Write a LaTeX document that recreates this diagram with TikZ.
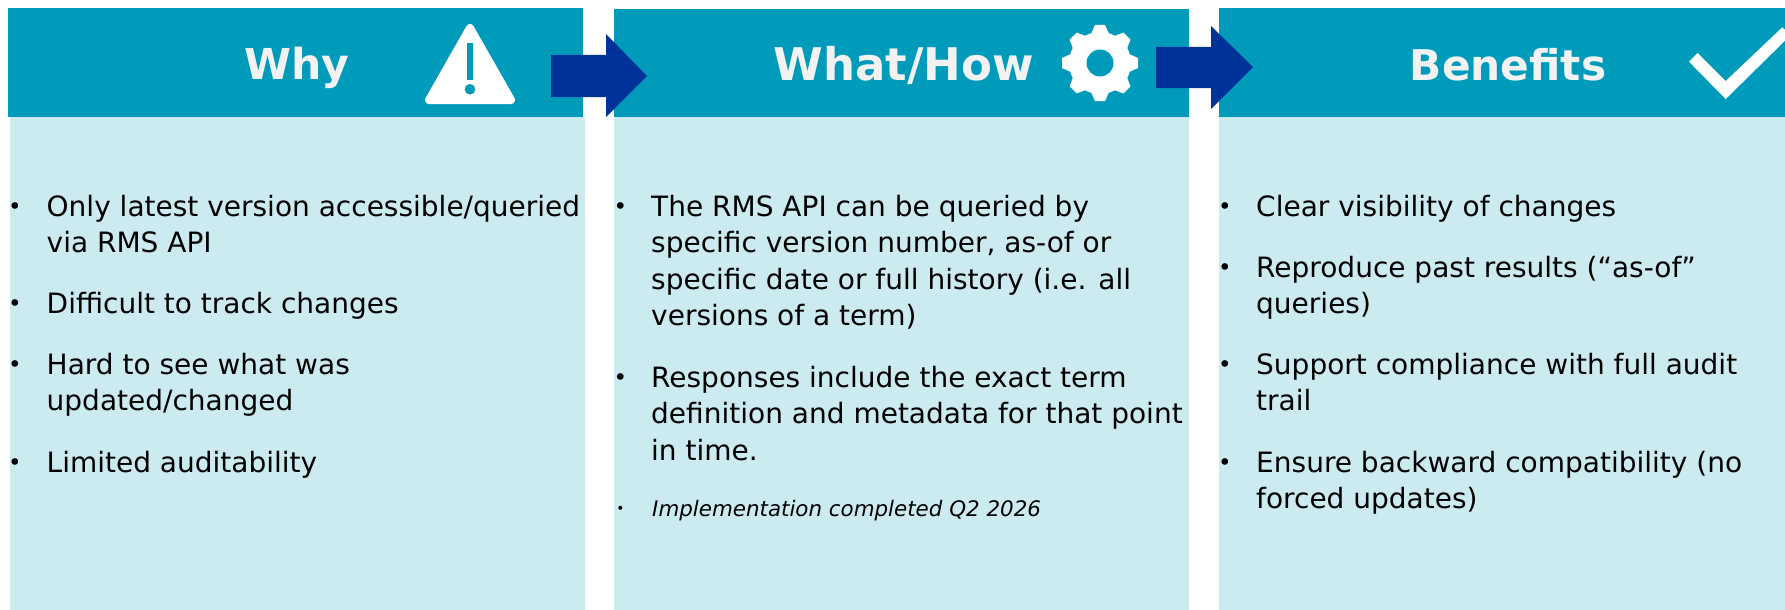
\documentclass[tikz,border=0pt]{standalone}
\usepackage{fontspec}
\setmainfont{DejaVu Sans}
\definecolor{hdrc}{HTML}{009BBB}
\definecolor{bodyc}{HTML}{CCEBF1}
\definecolor{arrc}{HTML}{003399}
\definecolor{titlec}{HTML}{F2F2F2}
\newcommand{\bodyfont}{\fontsize{28}{36.5}\selectfont}
\newcommand{\smallfont}{\fontsize{21.4}{26}\selectfont}
\tikzset{
  x=1pt,y=-1pt,
  hdrbox/.style={fill=hdrc,draw=none,inner sep=0,outer sep=0,anchor=north west},
  bodybox/.style={fill=bodyc,draw=none,inner sep=0,outer sep=0,anchor=north west},
  titletext/.style={text=titlec,font=\fontsize{44}{44}\selectfont\bfseries,inner sep=0,anchor=base},
  itemtext/.style={inner sep=0,anchor=north west,align=left,text=black,font=\bodyfont},
  smalltext/.style={inner sep=0,anchor=north west,align=left,text=black,font=\smallfont\itshape},
  bullettext/.style={inner sep=0,anchor=base,text=black,font=\fontsize{23}{23}\selectfont},
  flowarrow/.style={fill=arrc,draw=none},
}
% #1 name, #2 bullet x, #3 text x, #4 first baseline y, #5 text
\newcommand{\listitem}[5]{%
  \node[bullettext] (#1b) at (#2,#4-1.5) {•};
  \node[itemtext] (#1) at (#3,#4-24) {\rule{0pt}{24pt}#5};
}
\begin{document}
\begin{tikzpicture}
\useasboundingbox (0,0) rectangle (1785,610);
\fill[white] (0,0) rectangle (1785,610);
% columns
\node[bodybox,minimum width=575,minimum height=493] (b1) at (10,117) {};
\node[bodybox,minimum width=575,minimum height=493] (b2) at (614,117) {};
\node[bodybox,minimum width=566,minimum height=493] (b3) at (1219,117) {};
\node[hdrbox,minimum width=575,minimum height=109] (h1) at (8,8) {};
\node[hdrbox,minimum width=575,minimum height=108] (h2) at (614,9) {};
\node[hdrbox,minimum width=566,minimum height=109] (h3) at (1219,8) {};
% titles
\node[titletext,font=\fontsize{42.6}{44}\selectfont\bfseries] (t1) at (297,79.5) {Why};
\node[titletext,font=\fontsize{45}{44}\selectfont\bfseries] (t2) at (903.5,80.5) {What/How};
\node[titletext,font=\fontsize{42.3}{44}\selectfont\bfseries] (t3) at (1508,80.5) {Benefits};
% warning icon
\fill[white,draw=white,line width=8pt,line join=round] (470,28) -- (511,100) -- (429,100) -- cycle;
\fill[hdrc] (467,43) rectangle (473.3,80);
\fill[hdrc] (470,89.3) circle[radius=5.3];
% gear icon
\fill[white] (1100,63) circle[radius=31];
\foreach \a in {0,45,...,315}{
  \fill[white,shift={(1100,63)},rotate=\a] (-9.5,-28) -- (-5,-38) -- (5,-38) -- (9.5,-28) -- cycle;
}
\fill[hdrc] (1100,63) circle[radius=13.5];
% check icon
\fill[white] (1689,61.7) -- (1697.7,53) -- (1725.7,81) -- (1782.3,27.3) -- (1785,30) -- (1785,40.7) -- (1725.7,99) -- cycle;
% arrows
\fill[flowarrow] (551,55) -- (606,55) -- (606,34) -- (647,76) -- (606,117) -- (606,97) -- (551,97) -- cycle;
\fill[flowarrow] (1156,47) -- (1211,47) -- (1211,26) -- (1253,67) -- (1211,109) -- (1211,88) -- (1156,88) -- cycle;
% column 1
\listitem{a1}{15}{46.5}{216}{Only latest version accessible/queried\\via RMS API}
\listitem{a2}{15}{46.5}{313}{Difficult to track changes}
\listitem{a3}{15}{46.5}{374}{Hard to see what was\\updated/changed}
\listitem{a4}{15}{46.5}{472}{Limited auditability}
% column 2
\listitem{m1}{620.5}{651}{216}{The RMS API can be queried by\\specific version number, as-of or\\specific date or full history (i.e. all\\versions of a term)}
\listitem{m2}{620.5}{651}{387}{Responses include the exact term\\definition and metadata for that point\\in time.}
\node[bullettext,font=\fontsize{14}{14}\selectfont] (m3b) at (620.5,513.5) {•};
\node[smalltext] (m3) at (652,492) {\rule{0pt}{24pt}Implementation completed Q2 2026};
% column 3
\listitem{c1}{1225}{1256}{216}{Clear visibility of changes}
\listitem{c2}{1225}{1256}{277}{Reproduce past results (“as-of”\\queries)}
\listitem{c3}{1225}{1256}{374}{Support compliance with full audit\\trail}
\listitem{c4}{1225}{1256}{472}{Ensure backward compatibility (no\\forced updates)}
\end{tikzpicture}
\end{document}
